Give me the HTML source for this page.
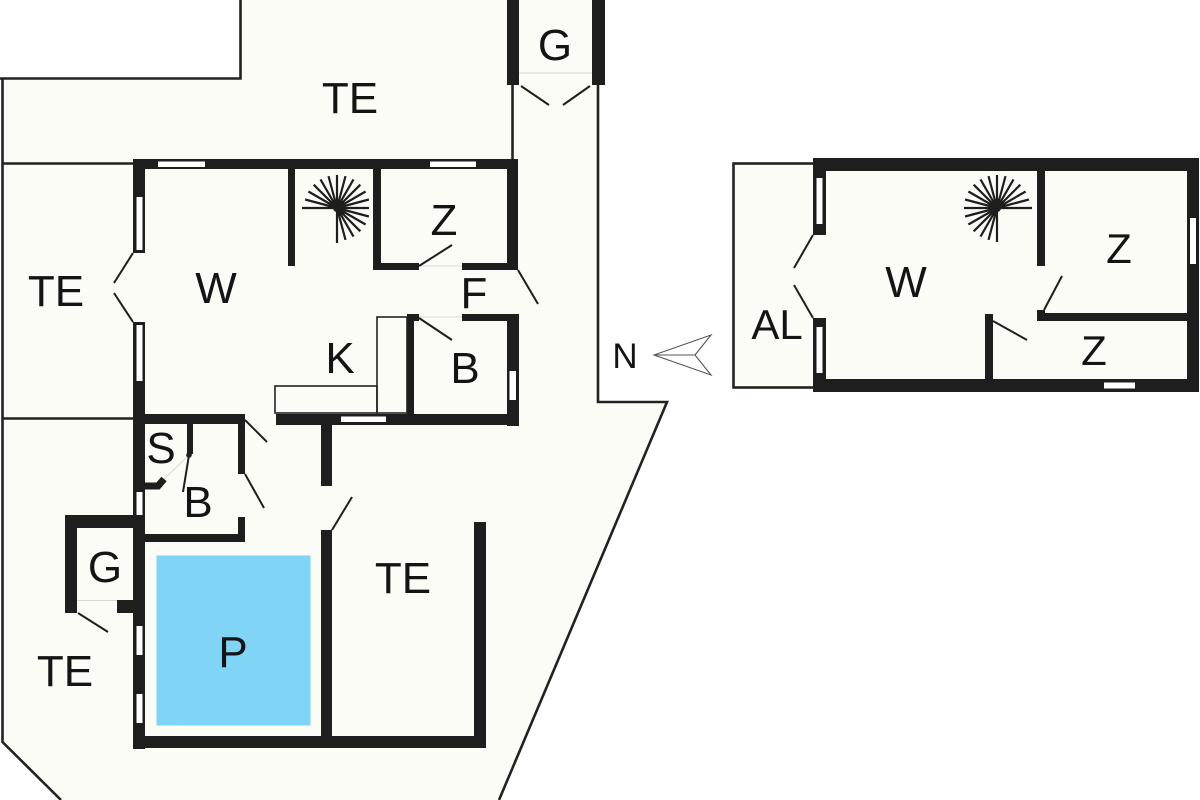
<!DOCTYPE html>
<html>
<head>
<meta charset="utf-8">
<style>
  html, body { margin:0; padding:0; background:#ffffff; }
  svg { display:block; }
  text { font-family: "Liberation Sans", Arial, sans-serif; fill:#141414; }
</style>
</head>
<body>
<svg width="1200" height="800" viewBox="0 0 1200 800" xmlns="http://www.w3.org/2000/svg">
  <rect x="0" y="0" width="1200" height="800" fill="#ffffff"/>

  <!-- terrace cream area -->
  <polygon points="2.5,78.5 240.5,78.5 240.5,0 605,0 605,85 598,85 598,402 667,402 499,800 61,800 2.5,742" fill="#fcfcf6"/>

  <!-- terrace thin lines -->
  <g fill="none" stroke="#222" stroke-width="2.6">
    <polyline points="0,78.5 240.5,78.5 240.5,0"/>
    <polyline points="2.5,78 2.5,742 61,800"/>
    <line x1="2" y1="163.5" x2="135" y2="163.5"/>
    <line x1="2" y1="418.5" x2="135" y2="418.5"/>
    <line x1="512.5" y1="85" x2="512.5" y2="160"/>
    <polyline points="598,85 598,402 667,402 499,800"/>
  </g>

  <!-- top G box -->
  <g fill="#1e1e1e">
    <rect x="507" y="0" width="12" height="85"/>
    <rect x="592" y="0" width="13" height="85"/>
  </g>
  <line x1="519" y1="73" x2="592" y2="73" stroke="#d6d6d6" stroke-width="1"/>
  <g stroke="#1e1e1e" stroke-width="2">
    <line x1="521" y1="86" x2="549" y2="105"/>
    <line x1="590" y1="86" x2="563" y2="105"/>
  </g>

  <!-- ================= MAIN HOUSE ================= -->
  <g fill="#1e1e1e">
    <rect x="133" y="159" width="385" height="10"/>
    <rect x="133" y="159" width="12" height="94"/>
    <rect x="133" y="322" width="12" height="427"/>
    <rect x="288" y="169" width="7" height="97"/>
    <rect x="373" y="169" width="8" height="101"/>
    <rect x="373" y="263" width="46" height="7"/>
    <rect x="462" y="263" width="56" height="7"/>
    <rect x="507" y="159" width="11" height="111"/>
    <rect x="407" y="314" width="12" height="7"/>
    <rect x="462" y="314" width="57" height="7"/>
    <rect x="407" y="314" width="7" height="106"/>
    <rect x="507" y="314" width="12" height="112"/>
    <rect x="133" y="414" width="112" height="10"/>
    <rect x="276" y="414" width="243" height="11"/>
    <rect x="187" y="420" width="6" height="34"/>
    <rect x="238" y="420" width="7" height="54"/>
    <rect x="238" y="517" width="7" height="25"/>
    <rect x="133" y="534" width="112" height="8"/>
    <rect x="65" y="515" width="12" height="98"/>
    <rect x="65" y="515" width="80" height="13"/>
    <rect x="117" y="600" width="28" height="13"/>
    <rect x="321" y="420" width="11" height="66"/>
    <rect x="321" y="530" width="11" height="218"/>
    <rect x="133" y="736" width="353" height="12"/>
    <rect x="474" y="522" width="12" height="226"/>
  </g>

  <!-- windows (white insets) -->
  <g fill="#ffffff">
    <rect x="158" y="161.5" width="47" height="5.5"/>
    <rect x="430" y="161.5" width="46" height="5.5"/>
    <rect x="136.5" y="197" width="6" height="53"/>
    <rect x="136.5" y="325" width="6" height="56"/>
    <rect x="136.5" y="492" width="6" height="23"/>
    <rect x="136.5" y="626" width="6" height="29"/>
    <rect x="136.5" y="694" width="6" height="29"/>
    <rect x="509.5" y="371" width="6.5" height="29"/>
    <rect x="341" y="416.5" width="45" height="5.5"/>
  </g>

  <!-- pool -->
  <rect x="156.5" y="555.5" width="154" height="170" fill="#80d4f6"/>

  <!-- kitchen counters -->
  <g fill="none" stroke="#222" stroke-width="1.6">
    <rect x="377" y="317" width="30" height="96"/>
    <rect x="275" y="386" width="102" height="27"/>
  </g>

  <!-- faint thresholds -->
  <g stroke="#d8d8d8" stroke-width="1">
    <line x1="77" y1="600.5" x2="117" y2="600.5"/>
    <line x1="160" y1="483" x2="189" y2="455"/>
    <line x1="419" y1="266" x2="462" y2="266"/>
    <line x1="419" y1="317" x2="462" y2="317"/>
  </g>

  <!-- door swing lines -->
  <g stroke="#1e1e1e" stroke-width="2" fill="none">
    <line x1="133" y1="253" x2="114" y2="283"/>
    <line x1="114" y1="293" x2="133" y2="322"/>
    <line x1="419" y1="266" x2="452" y2="245"/>
    <line x1="518" y1="270" x2="538" y2="304"/>
    <line x1="419" y1="318" x2="452" y2="340"/>
    <line x1="245" y1="420" x2="267" y2="442"/>
    <line x1="189" y1="455" x2="183" y2="492"/>
    <line x1="245" y1="474" x2="264" y2="508"/>
    <line x1="332" y1="530" x2="352" y2="497"/>
    <line x1="78" y1="613" x2="108" y2="632"/>
  </g>
  <circle cx="189" cy="455" r="2.8" fill="#1e1e1e"/>
  <path d="M145,486 L158,486 L164,479" stroke="#1e1e1e" stroke-width="7" fill="none"/>

  <!-- spiral stair main -->
  <g stroke="#1e1e1e" stroke-width="2.2" fill="none">
    <line x1="302" y1="208" x2="369" y2="208"/>
    <line x1="337" y1="208" x2="337" y2="243"/>
    <path d="M337,208 l31.9,8.5 M337,208 l28.6,16.5 M337,208 l23.3,23.3 M337,208 l16.5,28.6 M337,208 l8.5,31.9
             M337,208 l31.9,-8.5 M337,208 l28.6,-16.5 M337,208 l23.3,-23.3 M337,208 l16.5,-28.6 M337,208 l8.5,-31.9 M337,208 l0,-33
             M337,208 l-8.5,-31.9 M337,208 l-16.5,-28.6 M337,208 l-23.3,-23.3 M337,208 l-28.6,-16.5 M337,208 l-31.9,-8.5"/>
  </g>
  <circle cx="337" cy="208" r="4" fill="#1e1e1e"/>

  <!-- ================= RIGHT BUILDING ================= -->
  <rect x="733.5" y="163.5" width="81.5" height="224" fill="#fcfcf6" stroke="#222" stroke-width="2.6"/>
  <rect x="813" y="158" width="386" height="234" fill="#fcfcf6"/>
  <g fill="#1e1e1e">
    <rect x="813" y="158" width="386" height="13"/>
    <rect x="813" y="379" width="386" height="13"/>
    <rect x="813" y="158" width="13" height="77"/>
    <rect x="813" y="318" width="13" height="74"/>
    <rect x="1187" y="158" width="12" height="234"/>
    <rect x="1037" y="171" width="8" height="95"/>
    <rect x="1037" y="310" width="8" height="11"/>
    <rect x="1037" y="313" width="151" height="8"/>
    <rect x="985" y="314" width="8" height="78"/>
  </g>
  <g fill="#ffffff">
    <rect x="816.5" y="178" width="6" height="46"/>
    <rect x="816.5" y="327" width="6" height="46"/>
    <rect x="1190" y="218" width="6" height="46"/>
    <rect x="1104" y="382.5" width="31" height="6"/>
  </g>
  <g stroke="#1e1e1e" stroke-width="2" fill="none">
    <line x1="813" y1="235" x2="794" y2="268"/>
    <line x1="794" y1="285" x2="813" y2="318"/>
    <line x1="1044" y1="310" x2="1062" y2="276"/>
    <line x1="993" y1="321" x2="1027" y2="340"/>
  </g>

  <!-- spiral stair right -->
  <g stroke="#1e1e1e" stroke-width="2.2" fill="none">
    <line x1="964" y1="208" x2="1032" y2="208"/>
    <line x1="997" y1="208" x2="997" y2="242"/>
    <path d="M997,208 l-31.9,8.5 M997,208 l-28.6,16.5 M997,208 l-23.3,23.3 M997,208 l-16.5,28.6 M997,208 l-8.5,31.9
             M997,208 l31.9,-8.5 M997,208 l28.6,-16.5 M997,208 l23.3,-23.3 M997,208 l16.5,-28.6 M997,208 l8.5,-31.9 M997,208 l0,-33
             M997,208 l-8.5,-31.9 M997,208 l-16.5,-28.6 M997,208 l-23.3,-23.3 M997,208 l-28.6,-16.5 M997,208 l-31.9,-8.5"/>
  </g>
  <circle cx="997" cy="208" r="4" fill="#1e1e1e"/>

  <!-- north arrow -->
  <g stroke="#555" stroke-width="1.1" fill="none">
    <polygon points="654,355 711,335 695,355 711,375"/>
    <line x1="654" y1="355" x2="695" y2="355"/>
  </g>

  <!-- labels -->
  <g font-size="44" text-anchor="middle">
    <text x="350" y="113">TE</text>
    <text x="555" y="60">G</text>
    <text x="56" y="306">TE</text>
    <text x="216" y="303">W</text>
    <text x="444" y="235">Z</text>
    <text x="474" y="308">F</text>
    <text x="340" y="373">K</text>
    <text x="465" y="383">B</text>
    <text x="161" y="463">S</text>
    <text x="198" y="517">B</text>
    <text x="105" y="582">G</text>
    <text x="233" y="667">P</text>
    <text x="403" y="593">TE</text>
    <text x="65" y="686">TE</text>
    <text x="777" y="339" font-size="42">AL</text>
    <text x="906" y="297">W</text>
    <text x="1119" y="263" font-size="42">Z</text>
    <text x="1094" y="365" font-size="42">Z</text>
  </g>
  <text x="625" y="368" font-size="35" text-anchor="middle">N</text>
</svg>
</body>
</html>
